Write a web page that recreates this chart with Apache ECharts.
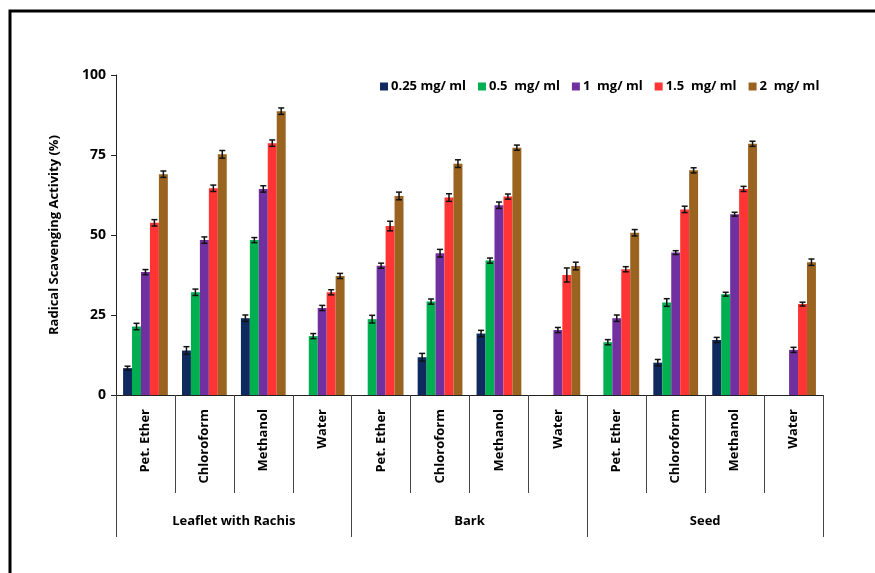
<!DOCTYPE html>
<html>
<head>
<meta charset="utf-8">
<script src="https://cdn.jsdelivr.net/npm/echarts@6/dist/echarts.min.js"></script>
<style>
  html, body { margin: 0; padding: 0; background: #fff; }
  #chart { width: 875px; height: 573px; }
</style>
</head>
<body>
<div id="chart"></div>
<script>
// solvents (12 bars groups) and plant parts
const solvents = ["Pet. Ether", "Chloroform", "Methanol", "Water",
                  "Pet. Ether", "Chloroform", "Methanol", "Water",
                  "Pet. Ether", "Chloroform", "Methanol", "Water"];
const parts = ["Leaflet with Rachis", "Bark", "Seed"];
const seriesNames = ["0.25 mg/ ml", "0.5  mg/ ml", "1  mg/ ml", "1.5  mg/ ml", "2  mg/ ml"];
const colors = ["#0f2a5e", "#00b050", "#7030a0", "#ff3535", "#9a6420"];

// radical scavenging activity (%) per concentration
const c025 = [8.4, 13.9, 24.0, null, null, 11.8, 19.2, null, null, 10.1, 17.2, null];
const c05  = [21.4, 32.1, 48.4, 18.4, 23.7, 29.2, 42.0, null, 16.5, 28.9, 31.5, null];
const c1   = [38.4, 48.4, 64.4, 27.2, 40.4, 44.3, 59.3, 20.3, 24.0, 44.5, 56.5, 14.1];
const c15  = [53.8, 64.6, 78.7, 32.1, 52.8, 61.7, 62.0, 37.5, 39.3, 58.0, 64.4, 28.4];
const c2   = [69.0, 75.2, 88.7, 37.2, 62.2, 72.3, 77.3, 40.3, 50.7, 70.2, 78.5, 41.5];

// error (+/-) per concentration
const e025 = [0.6, 1.2, 1.0, 0, 0, 1.2, 1.0, 0, 0, 1.0, 0.8, 0];
const e05  = [1.0, 1.0, 0.8, 0.8, 1.2, 0.8, 0.8, 0, 0.8, 1.2, 0.6, 0];
const e1   = [0.8, 1.0, 1.0, 0.8, 0.8, 1.2, 1.0, 0.8, 1.0, 0.6, 0.6, 0.8];
const e15  = [1.0, 1.0, 1.0, 0.8, 1.5, 1.2, 0.8, 2.2, 0.8, 1.0, 0.8, 0.6];
const e2   = [1.0, 1.2, 1.0, 0.8, 1.2, 1.2, 0.8, 1.2, 1.0, 0.8, 0.8, 1.0];

const values = [c025, c05, c1, c15, c2];
const errors = [e025, e05, e1, e15, e2];

const GAP = 0.24;
const font = "'Open Sans', 'DejaVu Sans', sans-serif";

let series = [];
values.forEach(function (vals, k) {
  series.push({
    name: seriesNames[k],
    type: "bar",
    xAxisIndex: 0,
    barGap: 0,
    barCategoryGap: (GAP * 100) + "%",
    itemStyle: { color: colors[k] },
    data: vals
  });
});
values.forEach(function (vals, k) {
  series.push({
    name: "err" + k,
    type: "custom",
    xAxisIndex: 0,
    z: 5,
    silent: true,
    encode: { x: 0, y: 1 },
    data: vals.map(function (v, i) { return [i, v == null ? 0 : v, errors[k][i]]; }),
    renderItem: function (params, api) {
      const i = api.value(0), v = api.value(1), e = api.value(2);
      if (!v) return;
      const band = api.size([1, 0])[0];
      const bw = band * (1 - GAP) / 5;
      const cx = api.coord([i, v])[0] + (k - 2) * bw;
      const yTop = api.coord([i, v + e])[1];
      const yBot = api.coord([i, v - e])[1];
      const st = { stroke: "#111", lineWidth: 1.5 };
      return {
        type: "group",
        children: [
          { type: "line", shape: { x1: cx, y1: yTop, x2: cx, y2: yBot }, style: st },
          { type: "line", shape: { x1: cx - 3, y1: yTop, x2: cx + 3, y2: yTop }, style: st },
          { type: "line", shape: { x1: cx - 3, y1: yBot, x2: cx + 3, y2: yBot }, style: st }
        ]
      };
    }
  });
});

const option = {
  animation: false,
  textStyle: { fontFamily: font },
  graphic: [{
    type: "polyline",
    shape: { points: [[10, 573], [10, 11], [875, 11]] },
    style: { stroke: "#000", lineWidth: 3, fill: null }
  }],
  legend: {
    data: seriesNames,
    left: 375,
    top: 75,
    icon: "rect",
    itemWidth: 8,
    itemHeight: 8,
    itemGap: 12,
    textStyle: { fontFamily: font, fontWeight: "bold", fontSize: 13, color: "#000", padding: [0, 0, 0, -2] }
  },
  grid: { left: 116, right: 52, top: 75, bottom: 178, containLabel: false },
  xAxis: [
    {
      type: "category",
      data: solvents,
      axisLine: { lineStyle: { color: "#222", width: 1 } },
      axisTick: { show: true, interval: 0, length: 98, lineStyle: { color: "#444" } },
      axisLabel: {
        interval: 0, rotate: 90, margin: 14,
        fontFamily: font, fontWeight: "bold", fontSize: 13, color: "#000"
      }
    },
    {
      type: "category",
      data: parts,
      position: "bottom",
      offset: 98,
      axisLine: { show: false },
      axisTick: { show: true, interval: 0, length: 44, lineStyle: { color: "#444" } },
      axisLabel: {
        interval: 0, margin: 22,
        fontFamily: font, fontWeight: "bold", fontSize: 13, color: "#000"
      }
    }
  ],
  yAxis: {
    type: "value",
    min: 0, max: 100, interval: 25,
    name: "Radical Scavenging Activity (%)",
    nameLocation: "middle",
    nameGap: 55,
    nameTextStyle: { fontFamily: font, fontWeight: "bold", fontSize: 13, color: "#000" },
    splitLine: { show: false },
    axisLine: { show: true, lineStyle: { color: "#222" } },
    axisTick: { show: true, length: 5, lineStyle: { color: "#222" } },
    axisLabel: { margin: 10, fontFamily: font, fontWeight: "bold", fontSize: 14, color: "#000" }
  },
  series: series
};

const chart = echarts.init(document.getElementById("chart"));
chart.setOption(option);
</script>
</body>
</html>
